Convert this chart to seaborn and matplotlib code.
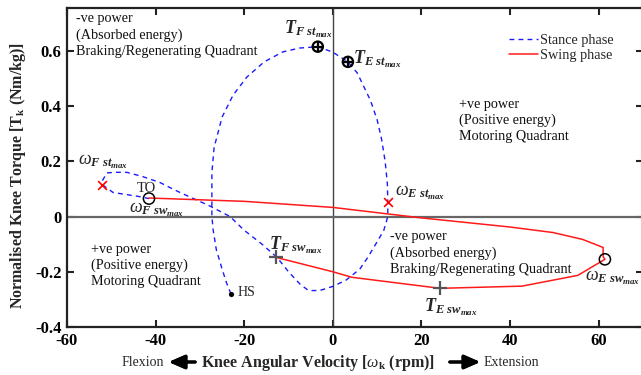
import matplotlib
matplotlib.use("Agg")
import matplotlib.pyplot as plt
import seaborn as sns
import pandas as pd

# ---------------- data ----------------
stance_w = [-23, -24, -25, -26.3, -27, -27.3, -27.3, -27.3, -26.8, -25, -22.5, -19.4, -15.5,
            -11.3, -7.5, -3.4, 0, 3.4, 5.5, 7, 8.5, 10, 11, 11.8, 12.3, 12.4, 12.4, 11.5,
            9.9, 8, 6.1, 3, 0, -3, -5.5, -7.4, -10, -12.6, -16, -20, -23.2, -28, -34.5,
            -36.8, -39, -43, -46.5, -49, -51, -52, -52, -49.6, -46, -43.6, -41.5]
stance_t = [-0.28, -0.24, -0.19, -0.12, -0.05, 0.0, 0.08, 0.16, 0.25, 0.36, 0.44, 0.505, 0.56,
            0.596, 0.61, 0.615, 0.595, 0.56, 0.52, 0.47, 0.42, 0.35, 0.28, 0.2, 0.12, 0.054, 0.0, -0.05,
            -0.094, -0.145, -0.19, -0.23, -0.253, -0.268, -0.268, -0.245, -0.2, -0.148, -0.1, -0.05, 0.0, 0.04, 0.087,
            0.105, 0.123, 0.145, 0.16, 0.16, 0.158, 0.13, 0.115, 0.087, 0.078, 0.072, 0.065]

swing_w = [-41.5, -20, 0, 20, 40, 49.7, 56.4, 61, 61, 61.4, 55.3, 42.7, 24.2, 4.3, 0, -12.8]
swing_t = [0.067, 0.055, 0.033, -0.005, -0.038, -0.058, -0.083, -0.112, -0.145, -0.155,
           -0.213, -0.252, -0.26, -0.22, -0.2, -0.148]

x_ticks = [-60, -40, -20, 0, 20, 40, 60]
x_ticklabels = ["-60", "-40", "-20", "0", "20", "40", "60"]
y_ticks = [-0.4, -0.2, 0, 0.2, 0.4, 0.6]
y_ticklabels = ["-0.4", "-0.2", "0", "0.2", "0.4", "0.6"]

# key points
w_st_w = [-52, 12.4]           # omega_st max (red x)
w_st_t = [0.115, 0.054]
w_sw_w = [-41.5, 61.4]         # omega_sw max (open circle)
w_sw_t = [0.065, -0.155]
T_st_w = [-3.4, 3.4]           # T_st max (circle plus)
T_st_t = [0.615, 0.56]
T_sw_w = [-12.8, 24.2]         # T_sw max (grey plus)
T_sw_t = [-0.148, -0.26]
hs_w = [-23]
hs_t = [-0.28]

# ---------------- style ----------------
sns.set_theme(style="ticks")
plt.rcParams["font.family"] = ["Liberation Serif", "DejaVu Serif"]
plt.rcParams["axes.unicode_minus"] = False
plt.rcParams["mathtext.fontset"] = "custom"
plt.rcParams["mathtext.rm"] = "Liberation Serif"
plt.rcParams["mathtext.it"] = "Liberation Serif:italic"
plt.rcParams["mathtext.bf"] = "Liberation Serif:bold"
try:
    plt.rcParams["mathtext.bfit"] = "Liberation Serif:italic:bold"
    BFIT = r"\mathbfit"
except Exception:
    BFIT = r"\mathbf"

fig = plt.figure(figsize=(6.41, 3.75), dpi=100)
ax = fig.add_axes([67 / 641, 48 / 375, 576 / 641, 319 / 375])

# zero lines
ax.axvline(0, color="#444444", lw=1.0, zorder=1)
ax.axhline(0, color="#666666", lw=1.6, zorder=1)

df_st = pd.DataFrame({"w": stance_w, "t": stance_t, "phase": "Stance phase"})
df_sw = pd.DataFrame({"w": swing_w, "t": swing_t, "phase": "Swing phase"})

sns.lineplot(data=df_st, x="w", y="t", sort=False, estimator=None, ax=ax,
             color="#1a1aff", lw=1.0, linestyle=(0, (3.5, 3)), label="Stance phase", zorder=3)
sns.lineplot(data=df_sw, x="w", y="t", sort=False, estimator=None, ax=ax,
             color="#ff1a1a", lw=1.1, label="Swing phase", zorder=3)

# markers
sns.scatterplot(x=w_st_w, y=w_st_t, ax=ax, marker="x", s=40, color="#ff0000",
                linewidth=1.2, zorder=5, legend=False)
sns.scatterplot(x=w_sw_w, y=w_sw_t, ax=ax, marker="o", s=65, facecolor="none",
                edgecolor="black", linewidth=1.1, zorder=5, legend=False)
sns.scatterplot(x=T_st_w, y=T_st_t, ax=ax, marker="o", s=55, facecolor="none",
                edgecolor="black", linewidth=1.6, zorder=5, legend=False)
sns.scatterplot(x=T_st_w, y=T_st_t, ax=ax, marker="+", s=55, color="black",
                linewidth=1.6, zorder=6, legend=False)
sns.scatterplot(x=T_sw_w, y=T_sw_t, ax=ax, marker="+", s=90, color="#555555",
                linewidth=1.6, zorder=5, legend=False)
sns.scatterplot(x=hs_w, y=hs_t, ax=ax, marker="o", s=14, color="black",
                linewidth=0, zorder=5, legend=False)

ax.set_xlim(-60, 70)
ax.set_ylim(-0.4, 0.755)
ax.set_xticks(x_ticks)
ax.set_xticklabels(x_ticklabels)
ax.set_yticks(y_ticks)
ax.set_yticklabels(y_ticklabels)
ax.tick_params(direction="in", length=5, width=1.5, top=True, right=True,
               labelsize=12, pad=4, colors="#222222")
for lab in ax.get_xticklabels() + ax.get_yticklabels():
    lab.set_fontweight("bold")
    lab.set_color("black")
for sp in ax.spines.values():
    sp.set_linewidth(1.6)
    sp.set_color("#222222")
    sp.set_visible(True)

ax.set_xlabel(r"Knee Angular Velocity [$\omega_{\mathbf{k}}$ (rpm)]", fontsize=11.5,
              fontweight="bold")
ax.xaxis.set_label_coords((318 - 67) / 576, -0.08)
ax.set_ylabel(r"Normalised Knee Torque [$\mathbf{T}_{\mathbf{k}}$ (Nm/kg)]", fontsize=11.5,
              fontweight="bold")
ax.yaxis.set_label_coords(-0.068, 0.476)

leg = ax.legend(loc="upper left", bbox_to_anchor=(0.745, 0.96), frameon=False,
                fontsize=10.3, handlelength=2.0, handletextpad=0.15, labelspacing=0.15)

# quadrant texts
tkw = dict(fontsize=10.2, va="top", ha="left", linespacing=1.3, color="#111111")
ax.text(-58, 0.74, "-ve power\n(Absorbed energy)\nBraking/Regenerating Quadrant", **tkw)
ax.text(28.5, 0.43, "+ve power\n(Positive energy)\nMotoring Quadrant", **tkw)
ax.text(-54.5, -0.095, "+ve power\n(Positive energy)\nMotoring Quadrant", **tkw)
ax.text(12.8, -0.05, "-ve power\n(Absorbed energy)\nBraking/Regenerating Quadrant", **tkw)

def Tlab(a):
    return r"$%s{T}_{%s{%s}_{%s{max}}}$" % (BFIT, BFIT, a, BFIT)

def Wlab(a):
    return r"$\omega_{%s{%s}_{%s{max}}}$" % (BFIT, a, BFIT)

akw = dict(fontsize=13, ha="left", va="center")
ax.text(-11, 0.68, Tlab(r"F\ st"), **akw)
ax.text(4.5, 0.57, Tlab(r"E\ st"), **akw)
ax.text(-14.5, -0.105, Tlab(r"F\ sw"), **akw)
ax.text(20.5, -0.33, Tlab(r"E\ sw"), **akw)
ax.text(-57.5, 0.2, Wlab(r"F\ st"), **akw)
ax.text(-46, 0.025, Wlab(r"F\ sw"), **akw)
ax.text(14, 0.085, Wlab(r"E\ st"), **akw)
ax.text(57, -0.22, Wlab(r"E\ sw"), **akw)
ax.text(-44.3, 0.103, "TO", fontsize=10.5, ha="left", va="center")
ax.text(-21.5, -0.275, "HS", fontsize=10, ha="left", va="center")

# flexion / extension arrows
fig.text(122 / 641, 1 - 362 / 375, "Flexion", fontsize=10, ha="left", va="center")
fig.text(484 / 641, 1 - 362 / 375, "Extension", fontsize=10, ha="left", va="center")
akw2 = dict(arrowprops=dict(arrowstyle="-|>,head_length=0.8,head_width=0.35", lw=2.2,
                            color="black"), xycoords="figure fraction", textcoords="figure fraction")
fig.add_artist(plt.annotate("", xy=(166 / 641, 1 - 362 / 375), xytext=(198 / 641, 1 - 362 / 375), **akw2))
fig.add_artist(plt.annotate("", xy=(483 / 641, 1 - 362 / 375), xytext=(447 / 641, 1 - 362 / 375), **akw2))

fig.savefig("out.png", dpi=100)
